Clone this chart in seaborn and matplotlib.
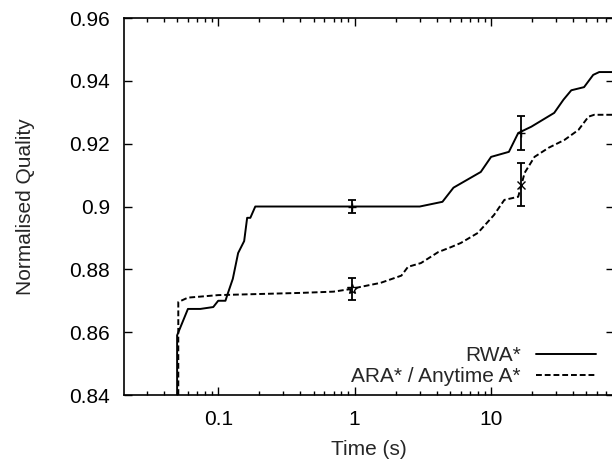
import numpy as np
import pandas as pd
import seaborn as sns
import matplotlib.pyplot as plt
from matplotlib.ticker import LogLocator, FixedLocator, NullFormatter, FuncFormatter

# curva RWA* (tempo em s, qualidade normalizada)
rwa_t = [0.050, 0.050, 0.060, 0.074, 0.092, 0.100, 0.113, 0.118, 0.128, 0.140, 0.155,
         0.163, 0.172, 0.187, 3.0, 4.4, 5.3, 8.4, 10.0, 13.5, 15.8, 19.7, 29.0,
         33.9, 38.7, 48.0, 56.0, 62.0, 80.0]
rwa_q = [0.840, 0.859, 0.8674, 0.8674, 0.868, 0.870, 0.870, 0.8725, 0.877, 0.8852, 0.889,
         0.8964, 0.8964, 0.900, 0.900, 0.9015, 0.906, 0.911, 0.9158, 0.9174, 0.9234,
         0.9254, 0.9298, 0.934, 0.937, 0.938, 0.9419, 0.9428, 0.9428]

# curva ARA* / Anytime A*
ara_t = [0.051, 0.051, 0.060, 0.073, 0.100, 0.40, 0.70, 0.96, 1.1, 1.55, 2.2,
         2.46, 3.06, 4.1, 5.1, 6.0, 8.0, 10.5, 12.5, 15.8, 17.6, 20.8, 26.4,
         34.5, 43.7, 51.7, 57.0, 80.0]
ara_q = [0.840, 0.8696, 0.871, 0.8713, 0.8718, 0.8725, 0.8729, 0.8738, 0.8744,
         0.8757, 0.878, 0.8808, 0.882, 0.8855, 0.8871, 0.8884, 0.8916, 0.8973,
         0.9021, 0.9031, 0.9107, 0.9158, 0.9187, 0.9212, 0.9244, 0.9286, 0.9292,
         0.9292]

# barras de erro
rwa_err_t = [0.96, 16.6]
rwa_err_q = [0.900, 0.9234]
rwa_err = [0.002, 0.0053]
ara_err_t = [0.96, 16.6]
ara_err_q = [0.8738, 0.9069]
ara_err = [0.0034, 0.0068]

df = pd.concat([
    pd.DataFrame({'t': rwa_t, 'q': rwa_q, 'alg': 'RWA*'}),
    pd.DataFrame({'t': ara_t, 'q': ara_q, 'alg': 'ARA* / Anytime A*'}),
])

sns.set_style('ticks')
plt.rcParams['font.family'] = ['Liberation Sans', 'DejaVu Sans']

fig = plt.figure(figsize=(6.12, 4.62), dpi=100)
ax = fig.add_axes([0.2026, 0.145, 0.8, 0.816])

sns.lineplot(data=df, x='t', y='q', hue='alg', style='alg',
             palette=['black', 'black'], dashes=[(None, None), (3, 1.5)],
             linewidth=1.4, sort=False, estimator=None, ax=ax)

ax.errorbar(rwa_err_t, rwa_err_q, yerr=rwa_err, fmt='+', color='black',
            capsize=3, elinewidth=1.3, capthick=1.3, markersize=6)
ax.errorbar(ara_err_t[:1], ara_err_q[:1], yerr=ara_err[:1], fmt='*', color='black',
            capsize=3, elinewidth=1.3, capthick=1.3, markersize=7, mfc='none')
ax.errorbar(ara_err_t[1:], ara_err_q[1:], yerr=ara_err[1:], fmt='x', color='black',
            capsize=3, elinewidth=1.3, capthick=1.3, markersize=6)

ax.set_xscale('log')
ax.set_xlim(0.0204, 79)
ax.set_ylim(0.84, 0.96)
ax.set_yticks([0.84, 0.86, 0.88, 0.9, 0.92, 0.94, 0.96])
ax.yaxis.set_major_formatter(FuncFormatter(lambda v, p: f'{v:g}'))
ax.xaxis.set_major_locator(FixedLocator([0.1, 1, 10]))
ax.xaxis.set_major_formatter(FuncFormatter(lambda v, p: f'{v:g}'))
ax.xaxis.set_minor_locator(LogLocator(base=10, subs=np.arange(2, 10)))
ax.xaxis.set_minor_formatter(NullFormatter())

ax.tick_params(which='both', direction='in', top=True, right=True,
               labelsize=15, colors='black', width=1)
ax.tick_params(which='major', length=6)
ax.tick_params(axis='y', which='major', pad=10)
ax.tick_params(axis='x', which='major', pad=11)
ax.tick_params(which='minor', length=3)
for s in ax.spines.values():
    s.set_color('black')
    s.set_linewidth(1.2)

ax.set_xlabel('Time (s)', fontsize=15, labelpad=8)
ax.set_ylabel('Normalised Quality', fontsize=15, labelpad=25)

ax.legend(loc='lower right', frameon=False, markerfirst=False, fontsize=15,
          handlelength=2.85, handletextpad=0.75, borderaxespad=0.2,
          labelspacing=0.1, bbox_to_anchor=(0.989, -0.01))

fig.savefig('out.png', dpi=100)
